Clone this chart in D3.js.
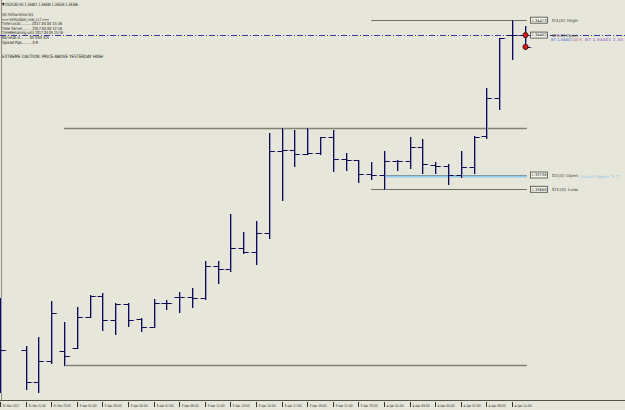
<!DOCTYPE html>
<html>
<head>
<meta charset="utf-8">
<title>USDCAD,H1</title>
<style>
  body { margin: 0; background: #e7e6da; }
  svg { display: block; }
  text { font-family: "DejaVu Sans", sans-serif; }
</style>
<script src="https://d3js.org/d3.v7.min.js"></script>
</head>
<body>
<script>
// bar times (H1), one per slot on the x axis
const times = [
  "31 Mar 19:00", "31 Mar 20:00", "31 Mar 21:00", "31 Mar 22:00", "31 Mar 23:00",
  "3 Apr 00:00", "3 Apr 01:00", "3 Apr 02:00", "3 Apr 03:00", "3 Apr 04:00", "3 Apr 05:00",
  "3 Apr 06:00", "3 Apr 07:00", "3 Apr 08:00", "3 Apr 09:00", "3 Apr 10:00", "3 Apr 11:00",
  "3 Apr 12:00", "3 Apr 13:00", "3 Apr 14:00", "3 Apr 15:00", "3 Apr 16:00", "3 Apr 17:00",
  "3 Apr 18:00", "3 Apr 19:00", "3 Apr 20:00", "3 Apr 21:00", "3 Apr 22:00", "3 Apr 23:00",
  "4 Apr 00:00", "4 Apr 01:00", "4 Apr 02:00", "4 Apr 03:00", "4 Apr 04:00", "4 Apr 05:00",
  "4 Apr 06:00", "4 Apr 07:00", "4 Apr 08:00", "4 Apr 09:00", "4 Apr 10:00", "4 Apr 11:00",
  "4 Apr 12:00"
];
const opens = [1.32926, null, 1.32903, 1.32749, 1.32850, 1.32899, 1.32911, 1.33061, 1.33161, 1.33045,
  1.33122, 1.33049, 1.33014, 1.33125, 1.33154, 1.33156, 1.33149, 1.33305, 1.33287, 1.33387,
  1.33371, 1.33458, 1.33850, 1.33855, 1.33836, 1.33839, 1.33915, 1.33810, 1.33807, 1.33740,
  1.33736, 1.33802, 1.33802, 1.33868, 1.33783, 1.33780, 1.33736, 1.33772, 1.33921, 1.34101,
  1.34402, 1.34402];
const highs = [1.33149, null, 1.32923, 1.32966, 1.33137, 1.33037, 1.33106, 1.33164, 1.33175, 1.33125,
  1.33125, 1.33056, 1.33144, 1.33141, 1.33177, 1.33199, 1.33326, 1.33326, 1.33550, 1.33463,
  1.33518, 1.33937, 1.33958, 1.33950, 1.33958, 1.33918, 1.33950, 1.33842, 1.33807, 1.33799,
  1.33850, 1.33807, 1.33918, 1.33906, 1.33799, 1.33788, 1.33850, 1.33921, 1.34151, 1.34386,
  1.34473, 1.34444];
const lows = [1.32703, null, 1.32717, 1.32703, 1.32842, 1.32831, 1.32912, 1.33061, 1.32998, 1.32977,
  1.33018, 1.32995, 1.33014, 1.33096, 1.33082, 1.33106, 1.33144, 1.33223, 1.33279, 1.33366,
  1.33311, 1.33434, 1.33617, 1.33780, 1.33836, 1.33834, 1.33756, 1.33759, 1.33701, 1.33717,
  1.33668, 1.33759, 1.33768, 1.33747, 1.33747, 1.33691, 1.33728, 1.33744, 1.33910, 1.34050,
  1.34286, 1.34334];
const closes = [1.32903, null, 1.32749, 1.32850, 1.33077, 1.32876, 1.33061, 1.33161, 1.33045, 1.33122,
  1.33045, 1.33014, 1.33128, 1.33125, 1.33156, 1.33149, 1.33305, 1.33287, 1.33387, 1.33371,
  1.33458, 1.33850, 1.33855, 1.33836, 1.33842, 1.33915, 1.33810, 1.33807, 1.33740, 1.33736,
  1.33802, 1.33802, 1.33868, 1.33788, 1.33780, 1.33736, 1.33772, 1.33918, 1.34101, 1.34386,
  1.34402, 1.34346];

// time axis labels (every second bar)
const tickTimes = times.filter((t, i) => i % 2 === 0);
const tickLabels = tickTimes.map((t, i) => i === 0 ? "31 Mar 2017" : t);

// horizontal level lines drawn by the indicators
const levelNames = ["D1(0) High", "W1(0) Open", "", "D1(0) Open", "", "D1(0) Low", ""];
const levelPrices = [1.34473, 1.34402, 1.33962, 1.33736, 1.33731, 1.33668, 1.32831];
const levelFrom = ["4 Apr 00:00", null, "3 Apr 00:00", "4 Apr 01:00", "4 Apr 01:00", "4 Apr 00:00", "3 Apr 00:00"];
const levelKinds = ["day", "week", "yday", "day", "hour", "day", "yday"];

// info panel in the corner
const infoLines = [
  "$$$ TimSlow Version $$$",
  "=== smHiLoOpen_Lines_v1.2 ===",
  "Time Local.......... 2017.04.04 15:16",
  "Time Server......... 2017.04.04 12:16",
  "TimeRemaining until 2017.04.04 15:16",
  "Bar ends in........ 0h 43m 42s",
  "Spread Pips......... 0.9"
];
const infoWidths = [31, 47, 60, 60, 61, 47, 36];
const title = "\u25BC USDCAD,H1  1.34402 1.34444 1.34334 1.34346";
const caution = "EXTREME CAUTION: PRICE ABOVE YESTERDAY HIGH";

const width = 625, height = 410;
const svg = d3.select("body").append("svg")
  .attr("width", width).attr("height", height);

svg.append("rect").attr("width", width).attr("height", height).attr("fill", "#e7e6da");

const x = d3.scalePoint().domain(times).range([0, 524.8]);
const y = d3.scaleLinear().domain([1.32665, 1.34569]).range([400, 0]);
const px = v => Math.round(v) + 0.5;

// frame + bottom axis
svg.append("line").attr("x1", 1.5).attr("x2", 1.5).attr("y1", 0).attr("y2", 400)
  .attr("stroke", "#8c8b80");
svg.append("line").attr("x1", 0).attr("x2", width).attr("y1", 400.5).attr("y2", 400.5)
  .attr("stroke", "#55544c");

const ticks = svg.append("g").selectAll("g").data(tickTimes).enter().append("g")
  .attr("transform", d => `translate(${px(x(d))},0)`);
ticks.append("line").attr("y1", 402).attr("y2", 407).attr("stroke", "#333");
ticks.append("text").attr("x", 2).attr("y", 407).attr("font-size", 3.6)
  .attr("fill", "#222")
  .attr("textLength", 17).attr("lengthAdjust", "spacingAndGlyphs")
  .text((d, i) => tickLabels[i]);

// level lines
const levelColor = { day: "#6f6d62", week: "#3a3aa0", yday: "#84826f", hour: "#8ecbea" };
levelPrices.forEach((p, i) => {
  const kind = levelKinds[i];
  const x1 = levelFrom[i] ? x(levelFrom[i]) : 0;
  const x2 = kind === "week" ? width : x(times[times.length - 1]) + 2;
  const yy = kind === "hour" ? y(p) + 0.5 : px(y(p));
  svg.append("line")
    .attr("x1", x1).attr("x2", x2).attr("y1", yy).attr("y2", yy)
    .attr("stroke", levelColor[kind])
    .attr("stroke-width", kind === "hour" ? 2 : (kind === "yday" ? 1.4 : 1))
    .attr("stroke-dasharray", kind === "week" ? "6,2,1,2" : null);
});

// price tags at the right end
levelPrices.forEach((p, i) => {
  if (!levelNames[i]) return;
  const yy = y(p);
  svg.append("rect").attr("x", 530.5).attr("y", yy - 3).attr("width", 17).attr("height", 6)
    .attr("fill", "#f4f3ea").attr("stroke", "#444").attr("stroke-width", 0.8);
  svg.append("text").attr("x", 531.5).attr("y", yy + 1.4).attr("font-size", 3.6)
    .attr("fill", "#222").attr("textLength", 15).attr("lengthAdjust", "spacingAndGlyphs")
    .text(p.toFixed(5));
  svg.append("text").attr("x", 552).attr("y", yy + 1.5).attr("font-size", 4)
    .attr("fill", "#444").attr("textLength", 26).attr("lengthAdjust", "spacingAndGlyphs")
    .text(levelNames[i]);
});
// indicator comments next to the tags
const wy = y(levelPrices[1]) + 6.2;
svg.append("text").attr("x", 551).attr("y", wy).attr("font-size", 3.8).attr("fill", "#2f4fe0")
  .attr("textLength", 21).attr("lengthAdjust", "spacingAndGlyphs").text("BT 1.34401");
svg.append("text").attr("x", 573).attr("y", wy).attr("font-size", 3.8).attr("fill", "#c04a8a")
  .attr("textLength", 9).attr("lengthAdjust", "spacingAndGlyphs").text("00075");
svg.append("text").attr("x", 585).attr("y", wy).attr("font-size", 3.8).attr("fill", "#8a4ad0")
  .attr("textLength", 38).attr("lengthAdjust", "spacingAndGlyphs").text("BT 1.34401 1.34");
svg.append("text").attr("x", 581).attr("y", y(levelPrices[4]) + 1.8).attr("font-size", 4)
  .attr("fill", "#8ec6e6").attr("textLength", 38).attr("lengthAdjust", "spacingAndGlyphs")
  .text("Hour Open 5.7");

// OHLC bars
const bars = times.map((t, i) => ({ t, o: opens[i], h: highs[i], l: lows[i], c: closes[i] }))
  .filter(d => d.o != null);

function drawBars(g, dx, color) {
  const b = g.selectAll("g").data(bars).enter().append("g")
    .attr("transform", d => `translate(${px(x(d.t)) + dx},0)`)
    .attr("stroke", color).attr("stroke-width", 1);
  b.append("line").attr("x1", 0).attr("x2", 0)
    .attr("y1", d => Math.round(y(d.h))).attr("y2", d => Math.round(y(d.l)) + 1);
  b.append("line").attr("x1", -5).attr("x2", 0)
    .attr("y1", d => px(y(d.o))).attr("y2", d => px(y(d.o)));
  b.append("line").attr("x1", 0).attr("x2", 5)
    .attr("y1", d => px(y(d.c))).attr("y2", d => px(y(d.c)));
}
drawBars(svg.append("g"), 1, "#9c9ab8");
drawBars(svg.append("g"), 0, "#0c0c52");

// current bar open/close markers
const last = bars[bars.length - 1];
svg.selectAll("circle.mark").data([last.o, last.c]).enter().append("circle")
  .attr("class", "mark")
  .attr("cx", px(x(last.t))).attr("cy", d => y(d)).attr("r", 2.6)
  .attr("fill", "#d11a1a").attr("stroke", "#3a0a0a").attr("stroke-width", 0.8);

// corner text
svg.append("text").attr("x", 2).attr("y", 5.5).attr("font-size", 4.5).attr("fill", "#111")
  .attr("textLength", 76).attr("lengthAdjust", "spacingAndGlyphs").text(title);
const infoY = [16.3, 20.7, 25, 29.7, 34, 39.4, 44];
svg.selectAll("text.info").data(infoLines).enter().append("text")
  .attr("class", "info").attr("x", 2).attr("y", (d, i) => infoY[i])
  .attr("font-size", 4.3).attr("fill", "#111")
  .attr("textLength", (d, i) => infoWidths[i]).attr("lengthAdjust", "spacingAndGlyphs")
  .text(d => d);
svg.append("text").attr("x", 2).attr("y", 58.4).attr("font-size", 4.5).attr("fill", "#111")
  .attr("textLength", 101).attr("lengthAdjust", "spacingAndGlyphs").text(caution);
</script>
</body>
</html>
